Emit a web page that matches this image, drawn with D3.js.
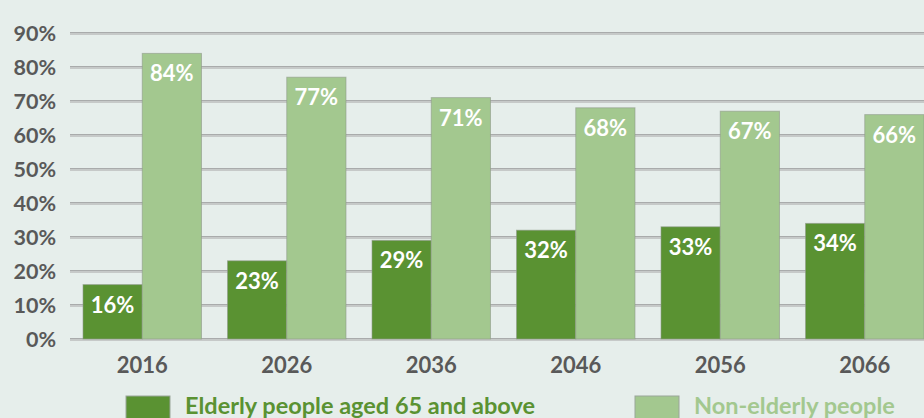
<!DOCTYPE html>
<html>
<head>
<meta charset="utf-8">
<script src="https://cdn.jsdelivr.net/npm/d3@7"></script>
<style>
  body { margin: 0; background: #e6eeeb; }
  svg { display: block; }
  text { font-family: Lato, "Open Sans", sans-serif; font-weight: bold; }
</style>
</head>
<body>
<div id="chart"></div>
<script>
// chart data
var years = ["2016", "2026", "2036", "2046", "2056", "2066"];
var elderly = [16, 23, 29, 32, 33, 34];
var nonElderly = [84, 77, 71, 68, 67, 66];
var yTicks = [0, 10, 20, 30, 40, 50, 60, 70, 80, 90];
var seriesNames = ["Elderly people aged 65 and above", "Non-elderly people"];

var WIDTH = 924, HEIGHT = 418;
var DARK = "#5a9232", LIGHT = "#a3c88f";

var svg = d3.select("#chart").append("svg")
    .attr("width", WIDTH)
    .attr("height", HEIGHT);

svg.append("rect").attr("width", WIDTH).attr("height", HEIGHT).attr("fill", "#e6eeeb");

var x = d3.scaleBand().domain(years).range([70, 937]).paddingInner(0.18).paddingOuter(0.09);
var y = d3.scaleLinear().domain([0, 90]).range([339, 33]);
var sub = d3.scaleBand().domain([0, 1]).range([0, x.bandwidth()]);

// gridlines
var grid = svg.append("g");
yTicks.forEach(function(t) {
    grid.append("rect")
        .attr("x", 70).attr("y", y(t) - 1)
        .attr("width", WIDTH - 70).attr("height", 3)
        .attr("fill", "#c6c9c8");
    grid.append("line")
        .attr("x1", 70).attr("x2", WIDTH)
        .attr("y1", y(t) - 0.5).attr("y2", y(t) - 0.5)
        .attr("stroke", "#a9abab").attr("stroke-width", 1);
});

// y tick labels
svg.append("g").selectAll("text").data(yTicks).enter().append("text")
    .attr("x", 56).attr("y", function(d) { return y(d); })
    .attr("dy", "0.36em")
    .attr("text-anchor", "end")
    .attr("fill", "#595959")
    .style("font-size", "21.5px")
    .text(function(d) { return d + "%"; });

// bars
var series = [elderly, nonElderly];
var colors = [DARK, LIGHT];
series.forEach(function(vals, s) {
    var g = svg.append("g");
    g.selectAll("rect").data(vals).enter().append("rect")
        .attr("x", function(d, i) { return x(years[i]) + sub(s); })
        .attr("y", function(d) { return y(d); })
        .attr("width", sub.bandwidth())
        .attr("height", function(d) { return y(0) - y(d); })
        .attr("fill", colors[s])
        .attr("stroke", "#8f9a8a")
        .attr("stroke-opacity", 0.6)
        .attr("stroke-width", 1);
    g.selectAll("text").data(vals).enter().append("text")
        .attr("x", function(d, i) { return x(years[i]) + sub(s) + sub.bandwidth() / 2; })
        .attr("y", function(d) { return y(d) + 28; })
        .attr("text-anchor", "middle")
        .attr("fill", "#ffffff")
        .style("font-size", "22px")
        .text(function(d) { return d + "%"; });
});

// x labels
svg.append("g").selectAll("text").data(years).enter().append("text")
    .attr("x", function(d) { return x(d) + x.bandwidth() / 2; })
    .attr("y", 373)
    .attr("text-anchor", "middle")
    .attr("fill", "#595959")
    .style("font-size", "22px")
    .text(function(d) { return d; });

// legend
var legendX = [126, 635];
seriesNames.forEach(function(name, s) {
    svg.append("rect")
        .attr("x", legendX[s]).attr("y", 396)
        .attr("width", 44).attr("height", 24)
        .attr("fill", colors[s])
        .attr("stroke", "#9aa59a").attr("stroke-width", 1);
    svg.append("text")
        .attr("x", legendX[s] + 59).attr("y", 414)
        .attr("fill", colors[s])
        .style("font-size", "23.5px")
        .text(name);
});
</script>
</body>
</html>
